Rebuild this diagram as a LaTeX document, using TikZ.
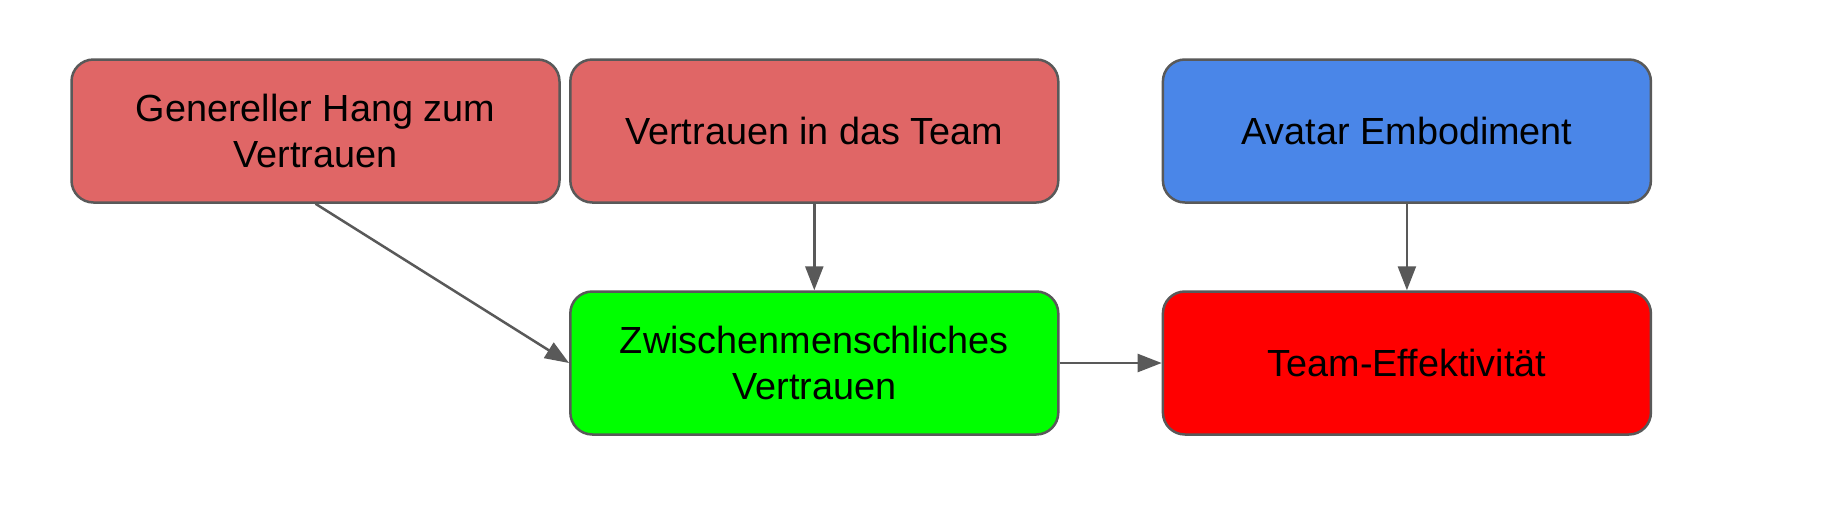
\documentclass[tikz,border=0pt]{standalone}
\usepackage{fontspec}
\setmainfont{Liberation Sans}
\usetikzlibrary{arrows.meta}
\definecolor{edgegray}{HTML}{595959}
\definecolor{boxred}{HTML}{E06666}
\definecolor{boxblue}{HTML}{4A86E8}
\definecolor{boxgreen}{HTML}{00FF00}
\definecolor{boxbright}{HTML}{FF0000}
\tikzset{
  box/.style={draw=edgegray, line width=2.5pt, rounded corners=22pt,
    minimum width=488pt, minimum height=143pt, inner sep=0pt, align=center,
    font=\fontsize{37.8}{46}\selectfont, text=black},
  conn/.style={draw=edgegray, line width=2.5pt,
    -{Triangle[width=18pt,length=24pt]}}
}
\begin{document}
\begin{tikzpicture}[x=1pt,y=-1pt]
\useasboundingbox[fill=white] (0,0) rectangle (1836,507);
\node[box, fill=boxred] (hang) at (315.5,131) {Genereller Hang zum\\Vertrauen};
\node[box, fill=boxred] (team) at (814.3,131) {Vertrauen in das Team};
\node[box, fill=boxblue] (avatar) at (1406.9,131) {Avatar Embodiment};
\node[box, fill=boxgreen] (zwi) at (814.3,363) {Zwischenmenschliches\\Vertrauen};
\node[box, fill=boxbright] (eff) at (1406.9,363) {Team-Effektivität};
\draw[conn] (hang.south) -- (zwi.west);
\draw[conn] (team.south) -- (zwi.north);
\draw[conn] (avatar.south) -- (eff.north);
\draw[conn] (zwi.east) -- (eff.west);
\end{tikzpicture}
\end{document}
